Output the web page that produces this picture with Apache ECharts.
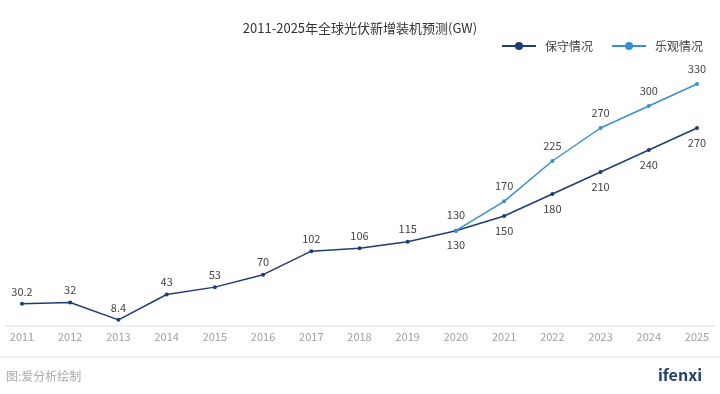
<!DOCTYPE html>
<html><head><meta charset="utf-8">
<script src="https://cdn.jsdelivr.net/npm/echarts@6/dist/echarts.min.js"></script>
<style>html,body{margin:0;padding:0;background:#fff}#c{width:720px;height:394px}</style>
</head><body><div id="c"></div>
<script>
const years = ['2011','2012','2013','2014','2015','2016','2017','2018','2019','2020','2021','2022','2023','2024','2025'];
const conservative = [30.2, 32, 8.4, 43, 53, 70, 102, 106, 115, 130, 150, 180, 210, 240, 270];
const optimistic = [null, null, null, null, null, null, null, null, null, 130, 170, 225, 270, 300, 330];
const font = '"Noto Sans CJK SC","Noto Sans",sans-serif';
const chart = echarts.init(document.getElementById('c'), null, {renderer:'canvas'});
const cdata = conservative.map((v,i)=> i>=9 ? {value:v,label:{position:'bottom',distance:7}} : {value:v});
chart.setOption({
  animation:false,
  textStyle:{fontFamily:font},
  title:{text:'2011-2025年全球光伏新增装机预测(GW)',left:'center',top:17,textStyle:{fontSize:13,fontWeight:'normal',color:'#333',fontFamily:font}},
  legend:{right:12,top:35,itemWidth:34,itemHeight:10,itemGap:18,textStyle:{fontSize:12,color:'#444',fontFamily:font,padding:[0,0,0,4]},
    data:['保守情况','乐观情况']},
  grid:{left:22,right:23,top:62,bottom:68},
  xAxis:{type:'category',data:years,boundaryGap:false,
    axisLine:{show:false},axisTick:{show:false},
    axisLabel:{color:'#a0a0a0',fontSize:11,margin:5,fontFamily:font}},
  yAxis:{type:'value',min:0,max:360,show:false,splitLine:{show:false}},
  graphic:[
    {type:'line',shape:{x1:5,y1:326,x2:715,y2:326},style:{stroke:'#ddd',lineWidth:1}},
    {type:'line',shape:{x1:0,y1:357,x2:720,y2:357},style:{stroke:'#ddd',lineWidth:1}},
    {type:'text',left:6,top:370,style:{text:'图:爱分析绘制',fill:'#aaa',font:'12px '+font}},
    {type:'text',right:18,top:367,style:{text:'ifenxi',fill:'#1d3d73',font:'bold 16px '+font}}
  ],
  series:[
    {name:'保守情况',type:'line',data:cdata,symbol:'circle',symbolSize:4,
      itemStyle:{color:'#1d3d73'},lineStyle:{color:'#1d3d73',width:1.5},
      label:{show:true,color:'#444',fontSize:11,fontFamily:font,position:'top',distance:5},
      z:2},
    {name:'乐观情况',type:'line',data:optimistic,symbol:'circle',symbolSize:4,
      itemStyle:{color:'#3a8fd0'},lineStyle:{color:'#3a8fd0',width:1.5},
      label:{show:true,color:'#444',fontSize:11,fontFamily:font,position:'top',distance:8},
      z:3}
  ]
});
</script></body></html>
